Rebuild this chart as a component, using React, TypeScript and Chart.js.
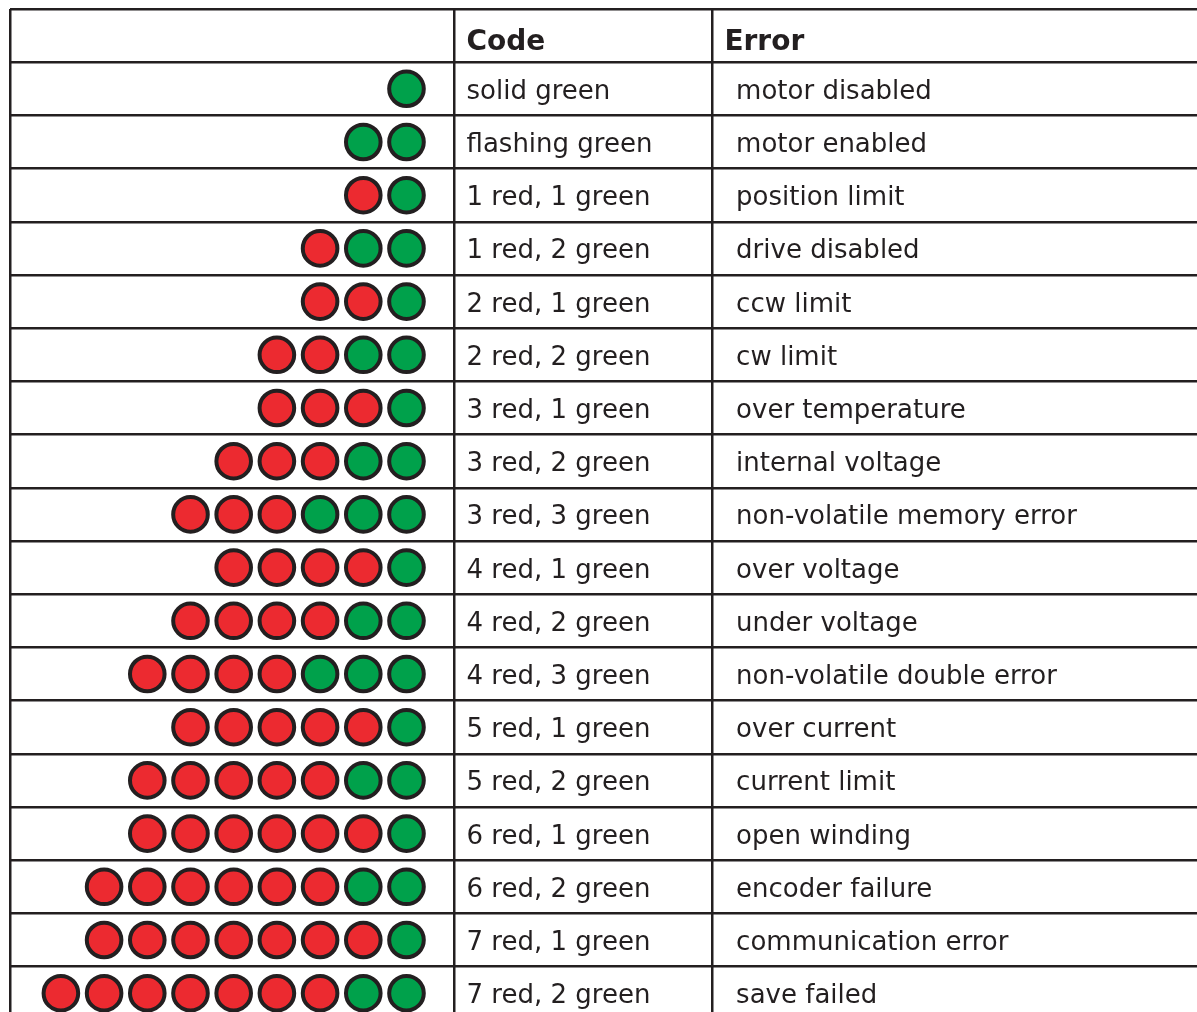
import React, { useEffect, useRef } from "react";
import { Chart, registerables } from "chart.js";

Chart.register(...registerables);

// ---- data ----
const HEADERS = ["Code", "Error"];
const CODES = [
  "solid green", "flashing green", "1 red, 1 green", "1 red, 2 green", "2 red, 1 green",
  "2 red, 2 green", "3 red, 1 green", "3 red, 2 green", "3 red, 3 green", "4 red, 1 green",
  "4 red, 2 green", "4 red, 3 green", "5 red, 1 green", "5 red, 2 green", "6 red, 1 green",
  "6 red, 2 green", "7 red, 1 green", "7 red, 2 green",
];
const ERRORS = [
  "motor disabled", "motor enabled", "position limit", "drive disabled", "ccw limit",
  "cw limit", "over temperature", "internal voltage", "non-volatile memory error", "over voltage",
  "under voltage", "non-volatile double error", "over current", "current limit", "open winding",
  "encoder failure", "communication error", "save failed",
];
const RED_COUNTS = [0, 0, 1, 1, 2, 2, 3, 3, 3, 4, 4, 4, 5, 5, 6, 6, 7, 7];
const GREEN_COUNTS = [1, 2, 1, 2, 1, 2, 1, 2, 3, 1, 2, 3, 1, 2, 1, 2, 1, 2];

// ---- style / layout (x unit = one LED pitch, 0 = rightmost LED; y unit = one row) ----
const RED = "#ec2a30";
const GREEN = "#00a14b";
const INK = "#231f20";
const X_MIN = -9.178;
const X_MAX = 18.299;
const X_CODE_DIV = 1.1;
const X_ERROR_DIV = 7.083;
const X_CODE_TEXT = 1.39;
const X_ERROR_HEAD = 7.36;
const X_ERROR_TEXT = 7.63;
const Y_MIN = -0.5;
const Y_MAX = 18.353;

export default function App() {
  const ref = useRef<HTMLCanvasElement | null>(null);

  useEffect(() => {
    document.body.style.margin = "0";
    const canvas = ref.current;
    if (!canvas) return;

    const points: { x: number; y: number }[] = [];
    const colors: string[] = [];
    RED_COUNTS.forEach((r, i) => {
      const g = GREEN_COUNTS[i];
      const n = r + g;
      for (let k = 0; k < n; k++) {
        points.push({ x: -(n - 1 - k), y: i + 1 });
        colors.push(k < r ? RED : GREEN);
      }
    });

    const textPlugin = {
      id: "tableText",
      afterDatasetsDraw(chart: any) {
        const { ctx, scales } = chart;
        const xs = scales.x;
        const ys = scales.y;
        ctx.save();
        ctx.fillStyle = INK;
        ctx.textAlign = "left";
        ctx.textBaseline = "alphabetic";
        ctx.font = "bold 28px 'DejaVu Sans'";
        const hy = ys.getPixelForValue(0) + 14.4;
        ctx.fillText(HEADERS[0], xs.getPixelForValue(X_CODE_TEXT), hy);
        ctx.fillText(HEADERS[1], xs.getPixelForValue(X_ERROR_HEAD), hy);
        ctx.font = "26px 'DejaVu Sans'";
        CODES.forEach((c, i) => {
          const y = ys.getPixelForValue(i + 1) + 10;
          ctx.fillText(c, xs.getPixelForValue(X_CODE_TEXT), y);
          ctx.fillText(ERRORS[i], xs.getPixelForValue(X_ERROR_TEXT), y);
        });
        ctx.restore();
      },
    };

    const rowBounds: number[] = [];
    for (let i = 0; i <= CODES.length; i++) rowBounds.push(i - 0.5);

    const chart = new Chart(canvas, {
      type: "scatter",
      data: {
        datasets: [
          {
            data: points,
            pointBackgroundColor: colors,
            pointBorderColor: INK,
            pointBorderWidth: 4,
            pointRadius: 17.3,
            pointHoverRadius: 17.3,
          },
        ],
      },
      options: {
        animation: false,
        responsive: false,
        devicePixelRatio: 1,
        events: [],
        layout: { autoPadding: false, padding: { left: 10, top: 9, right: 0, bottom: 0 } },
        plugins: { legend: { display: false }, tooltip: { enabled: false } },
        scales: {
          x: {
            type: "linear",
            min: X_MIN,
            max: X_MAX,
            ticks: { display: false },
            border: { display: false },
            grid: { color: INK, lineWidth: 2.5, drawTicks: false },
            afterBuildTicks: (s: any) => {
              s.ticks = [X_MIN, X_CODE_DIV, X_ERROR_DIV].map((v) => ({ value: v }));
            },
          },
          y: {
            type: "linear",
            reverse: true,
            min: Y_MIN,
            max: Y_MAX,
            ticks: { display: false },
            border: { display: false },
            grid: { color: INK, lineWidth: 2.5, drawTicks: false },
            afterBuildTicks: (s: any) => {
              s.ticks = rowBounds.map((v) => ({ value: v }));
            },
          },
        },
      },
      plugins: [textPlugin],
    });

    return () => chart.destroy();
  }, []);

  return (
    <div style={{ position: "absolute", left: 0, top: 0, width: 1197, height: 1012, background: "#fff" }}>
      <canvas ref={ref} width={1197} height={1012} style={{ display: "block" }} />
    </div>
  );
}
